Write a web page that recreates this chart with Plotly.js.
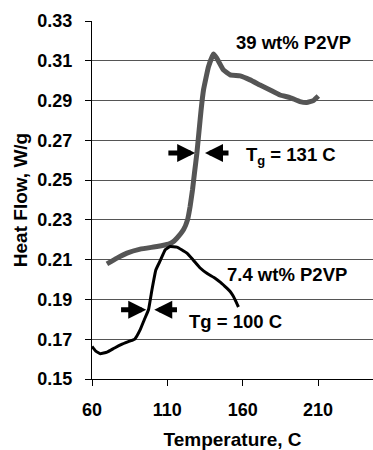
<!DOCTYPE html>
<html>
<head>
<meta charset="utf-8">
<script src="https://cdn.plot.ly/plotly-3.0.1.min.js"></script>
<style>html,body{margin:0;padding:0;background:#fff;}#chart{width:373px;height:450px;}</style>
</head>
<body>
<div id="chart"></div>
<script>
// 39 wt% P2VP curve
const temp39 = [69.9, 76.6, 83.2, 92, 103.1, 110.8, 113.5, 116.3, 120.7, 123.4, 125.1, 126.7, 128, 129.6, 131.1, 132.4, 134, 137.3, 140.6, 142.8, 147.2, 151.7, 158.3, 164.9, 171.5, 178.2, 184.8, 191.4, 198, 202.5, 206.9, 210.2];
const flow39 = [0.2079, 0.2108, 0.2133, 0.2153, 0.2166, 0.2178, 0.2188, 0.2208, 0.2250, 0.2300, 0.2367, 0.2451, 0.2535, 0.2635, 0.2752, 0.2853, 0.2953, 0.3070, 0.3134, 0.3113, 0.3054, 0.3029, 0.3024, 0.3004, 0.2978, 0.2953, 0.2928, 0.2915, 0.2895, 0.2890, 0.2900, 0.2923];
// 7.4 wt% P2VP curve
const temp74 = [60, 62.5, 65.5, 70, 75, 80, 85, 88.4, 92, 94.7, 97.5, 99.8, 102.4, 105.3, 108.6, 111.9, 116.3, 119.5, 123, 127, 131.8, 136.5, 141.7, 145.5, 149.5, 151.7, 153.5, 155, 157.2];
const flow74 = [0.1664, 0.1640, 0.1627, 0.1635, 0.1656, 0.1675, 0.1690, 0.1701, 0.1748, 0.1798, 0.1848, 0.1949, 0.2049, 0.2095, 0.2150, 0.2166, 0.2163, 0.2150, 0.2133, 0.2100, 0.2058, 0.2030, 0.2007, 0.1985, 0.1957, 0.1940, 0.1920, 0.1898, 0.1862];
// axis ticks
const xTicks = [60, 110, 160, 210];
const yTicks = [0.15, 0.17, 0.19, 0.21, 0.23, 0.25, 0.27, 0.29, 0.31, 0.33];
// labels
const label39 = '39 wt% P2VP';
const label74 = '7.4 wt% P2VP';
const tg39 = 'T<sub>g</sub> = 131 C';
const tg74 = 'Tg = 100 C';
// Tg marker arrows: [tailX, tipX, y]
const arrows = [[109.7, 128.5, 0.2636], [151.6, 135.0, 0.2636], [78.3, 96.0, 0.1848], [117.4, 101.3, 0.1848]];

const FONT = 'Arial, "Liberation Sans", sans-serif';
const b = s => '<b>' + s + '</b>';

const traces = [
  {x: temp39, y: flow39, type: 'scatter', mode: 'lines', line: {color: '#555555', width: 5, shape: 'spline', smoothing: 0.3}, hoverinfo: 'skip'},
  {x: temp74, y: flow74, type: 'scatter', mode: 'lines', line: {color: '#000000', width: 3, shape: 'spline', smoothing: 0.3}, hoverinfo: 'skip'}
];

const annotations = arrows.map(a => ({
  x: a[1], y: a[2], ax: a[0], ay: a[2], xref: 'x', yref: 'y', axref: 'x', ayref: 'y',
  text: '', showarrow: true, arrowhead: 2, arrowsize: 0.72, arrowwidth: 5, arrowcolor: '#000', standoff: 0, startstandoff: 0
}));
const annFont = {family: FONT, size: 18.5, color: '#000'};
annotations.push(
  {x: 154.4, y: 0.3194, xref: 'x', yref: 'y', text: b(label39), showarrow: false, xanchor: 'left', yanchor: 'middle', font: annFont},
  {x: 160.9, y: 0.2620, xref: 'x', yref: 'y', text: b(tg39), showarrow: false, xanchor: 'left', yanchor: 'middle', font: annFont},
  {x: 148.3, y: 0.2024, xref: 'x', yref: 'y', text: b(label74), showarrow: false, xanchor: 'left', yanchor: 'middle', font: annFont},
  {x: 123.0, y: 0.1790, xref: 'x', yref: 'y', text: b(tg74), showarrow: false, xanchor: 'left', yanchor: 'middle', font: annFont}
);

const layout = {
  width: 373, height: 450,
  margin: {l: 92, r: 0, t: 21, b: 71, pad: 0},
  paper_bgcolor: '#fff', plot_bgcolor: '#fff',
  showlegend: false,
  font: {family: FONT, color: '#000'},
  xaxis: {
    range: [60, 246.5], tickvals: xTicks, ticktext: xTicks.map(v => b(String(v))),
    ticks: 'outside', ticklen: 6, tickwidth: 1, tickcolor: '#000', ticklabelstandoff: 8,
    showline: true, linecolor: '#000', linewidth: 1, showgrid: false, zeroline: false,
    tickfont: {family: FONT, size: 18, color: '#000'},
    title: {text: b('Temperature, C'), font: {family: FONT, size: 19, color: '#000'}, standoff: 17}
  },
  yaxis: {
    range: [0.15, 0.33], tickvals: yTicks, ticktext: yTicks.map(v => b(v.toFixed(2))),
    ticks: 'outside', ticklen: 6, tickwidth: 1, tickcolor: '#000', ticklabelstandoff: 9,
    showline: true, linecolor: '#000', linewidth: 1,
    showgrid: true, gridcolor: '#555', gridwidth: 1, zeroline: false,
    tickfont: {family: FONT, size: 18, color: '#000'},
    title: {text: b('Heat Flow, W/g'), font: {family: FONT, size: 19, color: '#000'}, standoff: 4}
  },
  annotations: annotations
};

Plotly.newPlot('chart', traces, layout, {staticPlot: true, displayModeBar: false});
</script>
</body>
</html>
